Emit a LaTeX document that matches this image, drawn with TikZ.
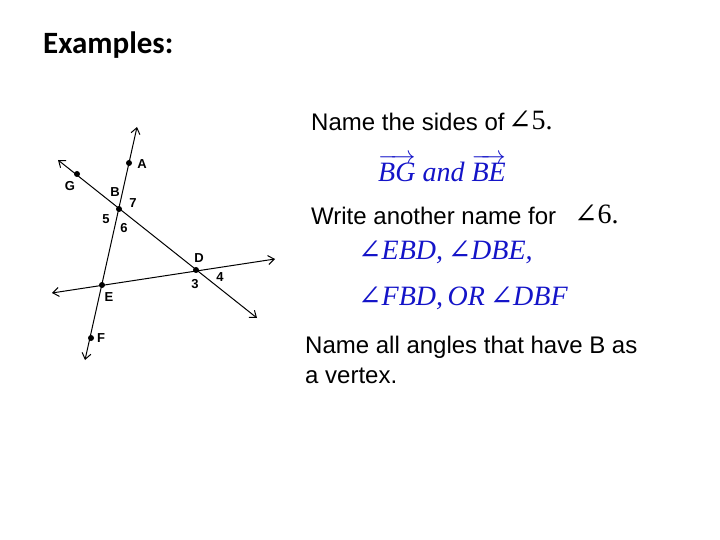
\documentclass[tikz,border=0pt]{standalone}
\usepackage{fontspec}
\setmainfont{Liberation Serif}
\newfontfamily\arialf{Liberation Sans}
\newfontfamily\calib{Carlito}
\newfontfamily\dvs{DejaVu Serif}
\newcommand\myang{{\upshape\dvs ∠}}
\usetikzlibrary{arrows.meta}
\definecolor{ansblue}{RGB}{20,20,200}
\begin{document}
\begin{tikzpicture}[x=1pt,y=-1pt,
  ln/.style={line width=1pt,{Straight Barb[length=6pt,width=9pt]}-{Straight Barb[length=6pt,width=9pt]}},
  pt/.style={circle,fill=black,inner sep=0pt,minimum size=6pt},
  lb/.style={font=\arialf\bfseries\fontsize{13}{15}\selectfont,inner sep=0pt},
  q/.style={font=\arialf\fontsize{24}{30}\selectfont,anchor=west,inner sep=0pt},
  ans/.style={font=\fontsize{28}{32}\selectfont\itshape,text=ansblue,anchor=west,inner sep=0pt}]
\useasboundingbox (0,0) rectangle (720,540);
\coordinate (a1) at (137,127); \coordinate (a2) at (85,360);
\coordinate (g1) at (58,160); \coordinate (g2) at (257,318);
\coordinate (e1) at (52,293); \coordinate (e2) at (275,259);
\draw[ln] (a1) -- (a2);
\draw[ln] (g1) -- (g2);
\draw[ln] (e1) -- (e2);
\node[pt] (A) at (129,163) {}; \node[pt] (B) at (119,209) {};
\node[pt] (E) at (102,285) {}; \node[pt] (F) at (91,338) {};
\node[pt] (G) at (77,174) {}; \node[pt] (D) at (196,270) {};
\node[lb] (lA) at (142,164) {A}; \node[lb] (lG) at (70,186) {G};
\node[lb] (lB) at (115,192) {B}; \node[lb] (l7) at (133,203) {7};
\node[lb] (l5) at (106,219) {5}; \node[lb] (l6) at (124,228) {6};
\node[lb] (lD) at (199,258) {D}; \node[lb] (l3) at (195,284) {3};
\node[lb] (l4) at (220,277) {4}; \node[lb] (lE) at (109,297) {E};
\node[lb] (lF) at (101,338) {F};
\node[anchor=west,inner sep=0pt,font=\calib\bfseries\fontsize{31}{36}\selectfont] (ex) at (43,45) {Examples:};
\node[q] (q1) at (311,122) {Name the sides of};
\node[anchor=west,inner sep=0pt,font=\fontsize{28}{32}\selectfont] (a5) at (508,120) {\myang5.};
\node[ans] (r1) at (378,168) {$\overrightarrow{\hbox{\itshape BG}}$ and $\overrightarrow{\hbox{\itshape BE}}$};
\node[q] (q2) at (311,216) {Write another name for};
\node[anchor=west,inner sep=0pt,font=\fontsize{28}{32}\selectfont] (a6) at (574,214) {\myang6.};
\node[ans] (r2) at (358,252) {\myang EBD,\,\myang DBE,};
\node[ans] (r3) at (358,298) {\myang FBD,\,OR\,\myang DBF};
\node[q,align=left] (q3) at (305,360) {Name all angles that have B as\\ a vertex.};
\end{tikzpicture}
\end{document}
